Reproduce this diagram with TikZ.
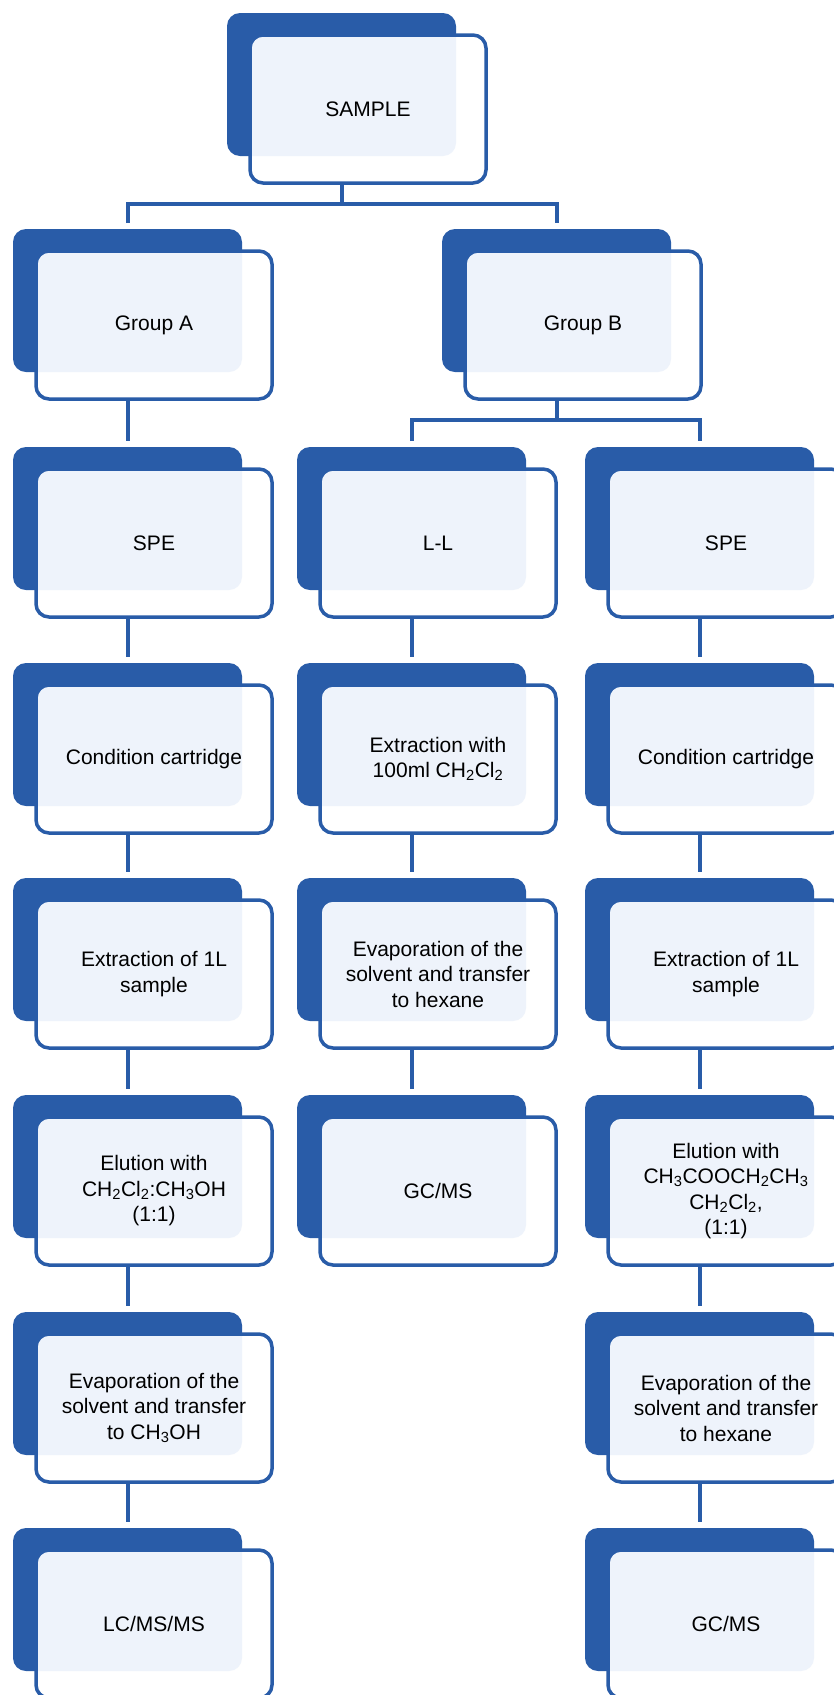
\documentclass[tikz,border=0pt]{standalone}
\usepackage{fontspec}
\setmainfont{Liberation Sans}
\definecolor{boxblue}{RGB}{41,92,168}
\definecolor{boxpale}{RGB}{238,243,251}
\newcommand{\chsub}[1]{\textsubscript{#1}}

\begin{document}
\begin{tikzpicture}[x=1pt, y=-1pt,
  backbox/.style={fill=boxblue, rounded corners=13pt, anchor=north west,
    minimum width=229pt, minimum height=143pt, inner sep=0pt, outer sep=0pt},
  frontbox/.style={fill=white, draw=boxblue, line width=3.5pt, rounded corners=13pt,
    anchor=north west, minimum width=236pt, minimum height=148pt,
    inner sep=0pt, outer sep=0pt, align=center,
    font=\fontsize{21}{25.5}\selectfont,
    path picture={\fill[boxpale, rounded corners=13pt]
      (#1.north west) rectangle (#1.south east);}},
  link/.style={draw=boxblue, line width=4pt}]

  \useasboundingbox (0,0) rectangle (834,1695);

  %% top of the tree
  \node[backbox] (sample-bk) at (227,13) {};
  \node[frontbox=sample-bk] (sample) at ([shift={(23,22)}]sample-bk.north west) {SAMPLE};

  \node[backbox] (groupa-bk) at (13,229) {};
  \node[frontbox=groupa-bk] (groupa) at ([shift={(23,22)}]groupa-bk.north west) {Group A};
  \node[backbox] (groupb-bk) at (442,229) {};
  \node[frontbox=groupb-bk] (groupb) at ([shift={(23,22)}]groupb-bk.north west) {Group B};

  %% group A, SPE
  \node[backbox] (spea-bk) at (13,447) {};
  \node[frontbox=spea-bk] (spea) at ([shift={(23,22)}]spea-bk.north west) {SPE};
  \node[backbox] (conda-bk) at (13,663) {};
  \node[frontbox=conda-bk] (conda) at ([shift={(23,22)}]conda-bk.north west) {Condition cartridge};
  \node[backbox] (extra-bk) at (13,878) {};
  \node[frontbox=extra-bk] (extra) at ([shift={(23,22)}]extra-bk.north west) {Extraction of 1L\\sample};
  \node[backbox] (elua-bk) at (13,1095) {};
  \node[frontbox=elua-bk] (elua) at ([shift={(23,22)}]elua-bk.north west)
    {Elution with\\CH\chsub{2}Cl\chsub{2}:CH\chsub{3}OH\\(1:1)};
  \node[backbox] (evapa-bk) at (13,1312) {};
  \node[frontbox=evapa-bk] (evapa) at ([shift={(23,22)}]evapa-bk.north west)
    {Evaporation of the\\solvent and transfer\\to CH\chsub{3}OH};
  \node[backbox] (lcms-bk) at (13,1528) {};
  \node[frontbox=lcms-bk] (lcms) at ([shift={(23,22)}]lcms-bk.north west) {LC/MS/MS};

  %% group B, L-L
  \node[backbox] (ll-bk) at (297,447) {};
  \node[frontbox=ll-bk] (ll) at ([shift={(23,22)}]ll-bk.north west) {L-L};
  \node[backbox] (extll-bk) at (297,663) {};
  \node[frontbox=extll-bk] (extll) at ([shift={(23,22)}]extll-bk.north west)
    {Extraction with\\100ml CH\chsub{2}Cl\chsub{2}};
  \node[backbox] (evapll-bk) at (297,878) {};
  \node[frontbox=evapll-bk] (evapll) at ([shift={(23,22)}]evapll-bk.north west)
    {Evaporation of the\\solvent and transfer\\to hexane};
  \node[backbox] (gcll-bk) at (297,1095) {};
  \node[frontbox=gcll-bk] (gcll) at ([shift={(23,22)}]gcll-bk.north west) {GC/MS};

  %% group B, SPE
  \node[backbox] (speb-bk) at (585,447) {};
  \node[frontbox=speb-bk] (speb) at ([shift={(23,22)}]speb-bk.north west) {SPE};
  \node[backbox] (condb-bk) at (585,663) {};
  \node[frontbox=condb-bk] (condb) at ([shift={(23,22)}]condb-bk.north west) {Condition cartridge};
  \node[backbox] (extrb-bk) at (585,878) {};
  \node[frontbox=extrb-bk] (extrb) at ([shift={(23,22)}]extrb-bk.north west) {Extraction of 1L\\sample};
  \node[backbox] (elub-bk) at (585,1095) {};
  \node[frontbox=elub-bk] (elub) at ([shift={(23,22)}]elub-bk.north west)
    {Elution with\\CH\chsub{3}COOCH\chsub{2}CH\chsub{3}\\CH\chsub{2}Cl\chsub{2},\\(1:1)};
  \node[backbox] (evapb-bk) at (585,1312) {};
  \node[frontbox=evapb-bk] (evapb) at ([shift={(23,22)}]evapb-bk.north west)
    {Evaporation of the\\solvent and transfer\\to hexane};
  \node[backbox] (gcms-bk) at (585,1528) {};
  \node[frontbox=gcms-bk] (gcms) at ([shift={(23,22)}]gcms-bk.north west) {GC/MS};

  %% forks
  \coordinate (fork top) at (0,204);
  \coordinate (fork b) at (0,420);

  \draw[link] (sample-bk |- sample.south) -- (sample-bk |- fork top);
  \draw[link] ([yshift=6pt]groupa-bk.north) -- (groupa-bk |- fork top)
    -- (groupb-bk |- fork top) -- ([yshift=6pt]groupb-bk.north);
  \draw[link] (groupb-bk |- groupb.south) -- (groupb-bk |- fork b);
  \draw[link] ([yshift=6pt]ll-bk.north) -- (ll-bk |- fork b)
    -- (speb-bk |- fork b) -- ([yshift=6pt]speb-bk.north);

  %% straight links
  \draw[link] (groupa-bk |- groupa.south) -- ([yshift=6pt]spea-bk.north);
  \draw[link] (spea-bk |- spea.south) -- ([yshift=6pt]conda-bk.north);
  \draw[link] (conda-bk |- conda.south) -- ([yshift=6pt]extra-bk.north);
  \draw[link] (extra-bk |- extra.south) -- ([yshift=6pt]elua-bk.north);
  \draw[link] (elua-bk |- elua.south) -- ([yshift=6pt]evapa-bk.north);
  \draw[link] (evapa-bk |- evapa.south) -- ([yshift=6pt]lcms-bk.north);

  \draw[link] (ll-bk |- ll.south) -- ([yshift=6pt]extll-bk.north);
  \draw[link] (extll-bk |- extll.south) -- ([yshift=6pt]evapll-bk.north);
  \draw[link] (evapll-bk |- evapll.south) -- ([yshift=6pt]gcll-bk.north);

  \draw[link] (speb-bk |- speb.south) -- ([yshift=6pt]condb-bk.north);
  \draw[link] (condb-bk |- condb.south) -- ([yshift=6pt]extrb-bk.north);
  \draw[link] (extrb-bk |- extrb.south) -- ([yshift=6pt]elub-bk.north);
  \draw[link] (elub-bk |- elub.south) -- ([yshift=6pt]evapb-bk.north);
  \draw[link] (evapb-bk |- evapb.south) -- ([yshift=6pt]gcms-bk.north);

\end{tikzpicture}
\end{document}
